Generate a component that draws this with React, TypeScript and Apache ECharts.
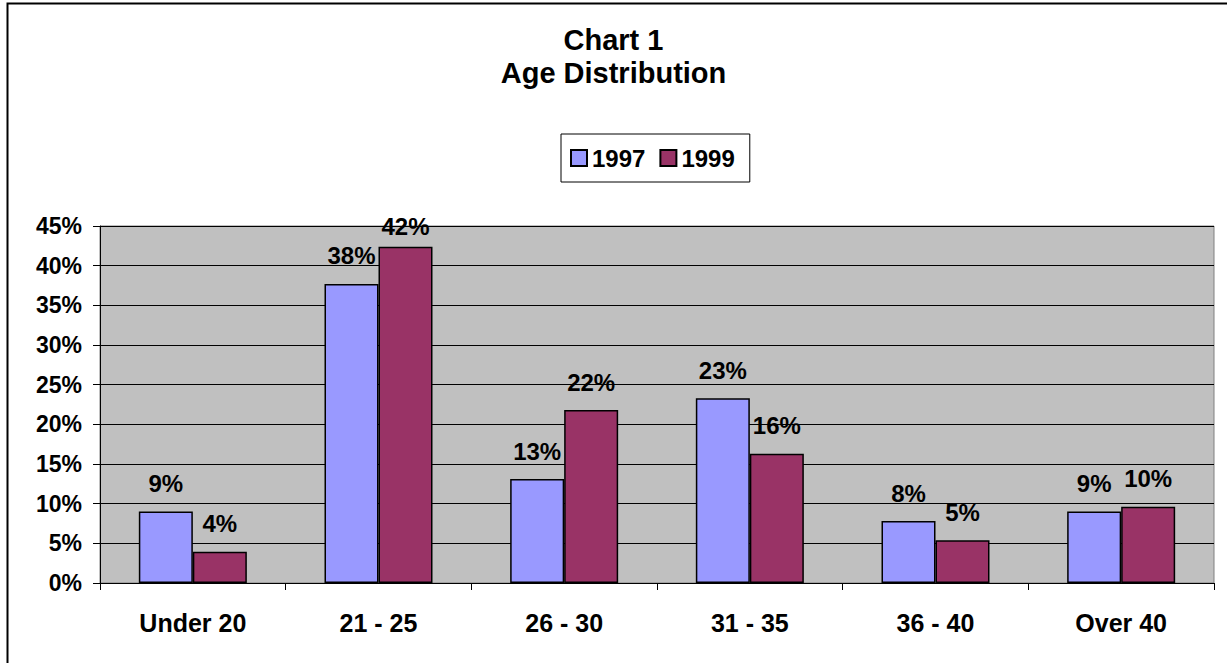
import React, { useEffect, useRef } from "react";
import * as echarts from "echarts";

const categories = ["Under 20", "21 - 25", "26 - 30", "31 - 35", "36 - 40", "Over 40"];
const values1997 = [9.0, 37.7, 13.1, 23.3, 7.8, 9.0];
const values1999 = [3.95, 42.4, 21.8, 16.3, 5.4, 9.6];
const seriesNames = ["1997", "1999"];
const yTicks = { min: 0, max: 45, interval: 5 };

const FONT = "'Liberation Sans', Arial, Helvetica, sans-serif";

export default function App() {
  const ref = useRef<HTMLDivElement>(null);
  useEffect(() => {
    if (!ref.current) return;
    const chart = echarts.init(ref.current, undefined, { renderer: "svg" });
    const labelFmt = (p: any) => `${Math.round(p.value)}%`;
    const mkData = (arr: number[], special?: number) =>
      arr.map((v, i) =>
        i === special ? { value: v, label: { distance: 8 } } : v
      );
    chart.setOption({
      animation: false,
      backgroundColor: "#ffffff",
      title: {
        text: "Chart 1\nAge Distribution",
        left: "center",
        top: 23,
        padding: 0,
        textStyle: {
          fontFamily: FONT,
          fontWeight: "bold",
          fontSize: 29,
          lineHeight: 33,
          color: "#000",
        },
      },
      legend: {
        left: 561,
        top: 134,
        padding: [12, 15, 12, 9],
        itemGap: 14,
        itemWidth: 16,
        itemHeight: 16,
        icon: "rect",
        borderColor: "#000",
        borderWidth: 1,
        backgroundColor: "#fff",
        data: seriesNames,
        textStyle: {
          fontFamily: FONT,
          fontWeight: "bold",
          fontSize: 24,
          lineHeight: 24,
          color: "#000",
        },
      },
      grid: {
        left: 100,
        top: 226,
        right: 13,
        bottom: 80,
        show: true,
        backgroundColor: "#c0c0c0",
        borderColor: "#808080",
        borderWidth: 1,
      },
      graphic: [
        {
          type: "rect",
          shape: { x: 7.5, y: 3.5, width: 1300, height: 800 },
          style: { fill: "none", stroke: "#000", lineWidth: 2 },
          silent: true,
          z: 100,
        },
      ],
      xAxis: {
        type: "category",
        data: categories,
        axisLine: { show: true, lineStyle: { color: "#000", width: 1 } },
        axisTick: { show: true, length: 7, lineStyle: { color: "#000" } },
        axisLabel: {
          margin: 27,
          fontFamily: FONT,
          fontWeight: "bold",
          fontSize: 25,
          color: "#000",
        },
        splitLine: { show: false },
      },
      yAxis: {
        type: "value",
        min: yTicks.min,
        max: yTicks.max,
        interval: yTicks.interval,
        axisLine: { show: true, lineStyle: { color: "#000", width: 1 } },
        axisTick: { show: true, length: 7, lineStyle: { color: "#000" } },
        axisLabel: {
          formatter: "{value}%",
          margin: 18,
          fontFamily: FONT,
          fontWeight: "bold",
          fontSize: 23,
          color: "#000",
        },
        splitLine: { show: true, lineStyle: { color: "#000", width: 1 } },
      },
      series: [
        {
          name: seriesNames[0],
          type: "bar",
          data: mkData(values1997),
          barWidth: 54,
          barGap: "0%",
          itemStyle: { color: "#9999ff", borderColor: "#000", borderWidth: 1.5 },
          label: {
            show: true,
            position: "top",
            distance: 16,
            formatter: labelFmt,
            fontFamily: FONT,
            fontWeight: "bold",
            fontSize: 24,
            color: "#000",
          },
        },
        {
          name: seriesNames[1],
          type: "bar",
          data: mkData(values1999, 1),
          barWidth: 54,
          barGap: "0%",
          itemStyle: { color: "#993366", borderColor: "#000", borderWidth: 1.5 },
          label: {
            show: true,
            position: "top",
            distance: 16,
            formatter: labelFmt,
            fontFamily: FONT,
            fontWeight: "bold",
            fontSize: 24,
            color: "#000",
          },
        },
      ],
    });
    return () => chart.dispose();
  }, []);
  return (
    <div
      ref={ref}
      style={{ position: "fixed", left: 0, top: 0, width: 1227, height: 663 }}
    />
  );
}
